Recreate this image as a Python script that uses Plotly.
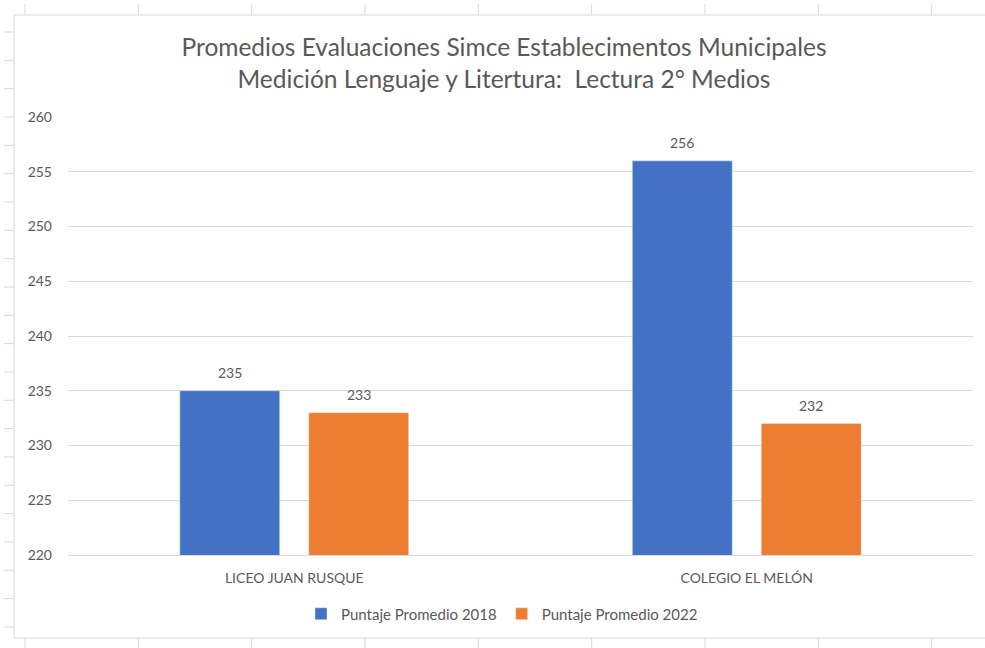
import plotly.graph_objects as go

categories = ["LICEO JUAN RUSQUE", "COLEGIO EL MELÓN"]
series_names = ["Puntaje Promedio 2018", "Puntaje Promedio 2022"]
values_2018 = [235, 256]
values_2022 = [233, 232]
tick_vals = [220, 225, 230, 235, 240, 245, 250, 255, 260]

FONT = "Lato"
GREY = "#595959"
W, H = 985, 648
L, R, T, B = 68, 12, 117, 93
PW, PH = W - L - R, H - T - B

def px_x(p):
    return (p - L) / PW

def px_y(p):
    return 1 - (p - T) / PH

fig = go.Figure()
fig.add_trace(go.Bar(x=categories, y=values_2018, name=series_names[0],
                     marker=dict(color="#4472C4")))
fig.add_trace(go.Bar(x=categories, y=values_2022, name=series_names[1],
                     marker=dict(color="#ED7D31")))

# data labels above bars
annotations = []
BAR_OFFSET = 64.5  # half of a bar slot in px
for vals, sgn in ((values_2018, -1), (values_2022, 1)):
    for cat, v in zip(categories, vals):
        annotations.append(dict(x=cat, y=v, xref="x", yref="y", text=str(v),
                                showarrow=False, xshift=sgn * BAR_OFFSET,
                                yanchor="bottom", yshift=8,
                                font=dict(size=14, color=GREY, family=FONT)))

shapes = []
# chart area border
shapes.append(dict(type="rect", xref="paper", yref="paper",
                   x0=px_x(14), x1=px_x(1000), y0=px_y(638), y1=px_y(15),
                   line=dict(color="#d9d9d9", width=1), layer="below"))
# spreadsheet cell ticks outside the chart
for i in range(9):
    xx = 25 + i * 113.33
    shapes.append(dict(type="line", xref="paper", yref="paper",
                       x0=px_x(xx), x1=px_x(xx), y0=px_y(4), y1=px_y(15),
                       line=dict(color="#d9d9d9", width=1)))
    shapes.append(dict(type="line", xref="paper", yref="paper",
                       x0=px_x(xx), x1=px_x(xx), y0=px_y(638), y1=px_y(648),
                       line=dict(color="#d9d9d9", width=1)))
for j in range(22):
    yy = 32 + j * 28.33
    shapes.append(dict(type="line", xref="paper", yref="paper",
                       x0=px_x(4), x1=px_x(14), y0=px_y(yy), y1=px_y(yy),
                       line=dict(color="#d9d9d9", width=1)))

fig.update_layout(
    width=W, height=H,
    margin=dict(l=L, r=R, t=T, b=B),
    paper_bgcolor="white", plot_bgcolor="white",
    font=dict(family=FONT, color=GREY, size=14),
    title=dict(text="Promedios Evaluaciones Simce Establecimentos Municipales<br>Medición Lenguaje y Litertura:  Lectura 2° Medios",
               x=px_x(504), xref="paper", xanchor="center",
               y=1 - 56 / H, yanchor="middle",
               font=dict(family=FONT, size=24.5, color=GREY)),
    barmode="group", bargap=0.43, bargroupgap=0.225,
    showlegend=True,
    legend=dict(orientation="h", x=px_x(502), xanchor="center",
                y=px_y(614), yanchor="middle",
                font=dict(size=15, color=GREY, family=FONT)),
    shapes=shapes,
    annotations=annotations,
)
fig.update_yaxes(range=[220, 260], tickvals=tick_vals, showgrid=True,
                 gridcolor="#d9d9d9", gridwidth=1, zeroline=False,
                 showline=False, ticks="", ticklabelstandoff=15,
                 tickfont=dict(size=14, color=GREY, family=FONT))
fig.update_xaxes(showgrid=False, showline=True, linecolor="#d9d9d9",
                 ticks="", tickfont=dict(size=14, color=GREY, family=FONT),
                 ticklabelstandoff=10)

fig.write_html("out.html", config={"displayModeBar": False},
               post_script="document.body.style.margin='0';document.body.style.overflow='hidden';")
